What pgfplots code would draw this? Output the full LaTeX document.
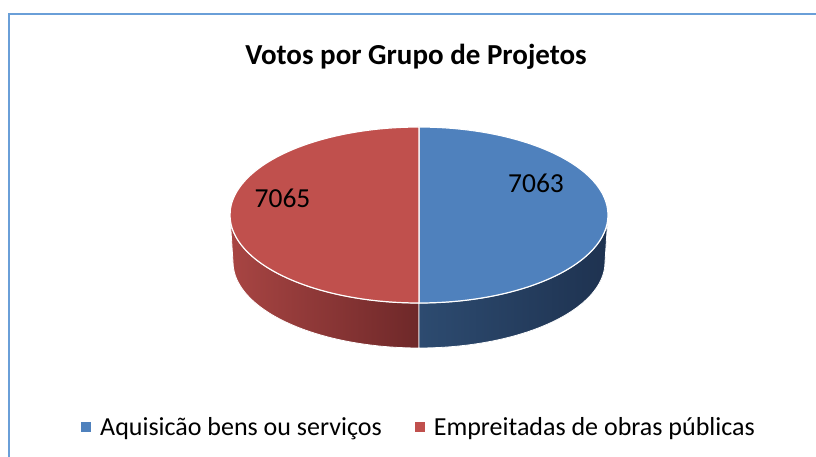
\documentclass[border=0pt]{standalone}
\usepackage{pgfplots}
\pgfplotsset{compat=1.18}
\usepackage{pgfplotstable}
\usepackage{fontspec}
\setmainfont{Carlito}
\definecolor{pieblue}{HTML}{4F81BD}
\definecolor{piered}{HTML}{C0504D}
\definecolor{bluewallA}{HTML}{2D4B70}
\definecolor{bluewallB}{HTML}{1E3250}
\definecolor{redwallA}{HTML}{A84543}
\definecolor{redwallB}{HTML}{6E2829}
\definecolor{framecol}{HTML}{6A9FD8}

\pgfplotstableread{
group value
Aquisicao 7063
Empreitadas 7065
}\votos

\begin{document}
\begin{tikzpicture}
\pgfplotstablegetelem{0}{value}\of\votos \let\valA\pgfplotsretval
\pgfplotstablegetelem{1}{value}\of\votos \let\valB\pgfplotsretval
\pgfmathsetmacro{\fracA}{\valA/(\valA+\valB)}
\pgfmathsetmacro{\split}{90-360*\fracA}
\pgfmathsetmacro{\splitR}{360+\split}
\begin{axis}[
  x=1pt, y=1pt, xmin=0, xmax=816, ymin=0, ymax=457,
  hide axis, clip=false,
  legend image code/.code={\fill[#1] (0pt,-5pt) rectangle (10pt,5pt); \path (17pt,0pt);},
  legend columns=2,
  legend style={draw=none, fill=none, at={(0.5135,0.066)}, anchor=center,
    font=\fontsize{26}{30}\selectfont, inner sep=0pt,
    /tikz/every even column/.append style={column sep=31pt}},
]
\addlegendimage{fill=pieblue, draw=none}
\addlegendentry{Aquisicão bens ou serviços}
\addlegendimage{fill=piered, draw=none}
\addlegendentry{Empreitadas de obras públicas}

% frame (chart area border, cropped at right and bottom)
\draw[framecol, line width=2.5pt] (9,0) -- (9,443) -- (816,443);

% title
\node[anchor=base, font=\fontsize{29}{34}\selectfont\bfseries] at (416,392) {Votos por Grupo de Projetos};

% side walls
\shade[left color=redwallA, right color=redwallB, draw=white, line width=0.8pt]
  ([shift={(180:189 and 88)}]419,242) arc[start angle=180, end angle=\splitR, x radius=189, y radius=88]
  -- ([shift={(\splitR:186 and 86)}]419,195) arc[start angle=\splitR, end angle=180, x radius=186, y radius=86] -- cycle;
\shade[left color=bluewallA, right color=bluewallB, draw=white, line width=0.8pt]
  ([shift={(\splitR:189 and 88)}]419,242) arc[start angle=\splitR, end angle=360, x radius=189, y radius=88]
  -- ([shift={(360:186 and 86)}]419,195) arc[start angle=360, end angle=\splitR, x radius=186, y radius=86] -- cycle;

% top faces
\fill[pieblue, draw=white, line width=1.2pt] (419,242) -- ([shift={(90:189 and 88)}]419,242)
  arc[start angle=90, end angle=\split, x radius=189, y radius=88] -- cycle;
\fill[piered, draw=white, line width=1.2pt] (419,242) -- ([shift={(\split:189 and 88)}]419,242)
  arc[start angle=\split, end angle=-270, x radius=189, y radius=88] -- cycle;

% data labels
\node[anchor=base, font=\fontsize{27.5}{32}\selectfont] at (536,264) {\valA};
\node[anchor=base, font=\fontsize{27.5}{32}\selectfont] at (282.5,249) {\valB};
\end{axis}
\pgfresetboundingbox
\useasboundingbox (current axis.south west) rectangle (current axis.north east);
\end{tikzpicture}
\end{document}
